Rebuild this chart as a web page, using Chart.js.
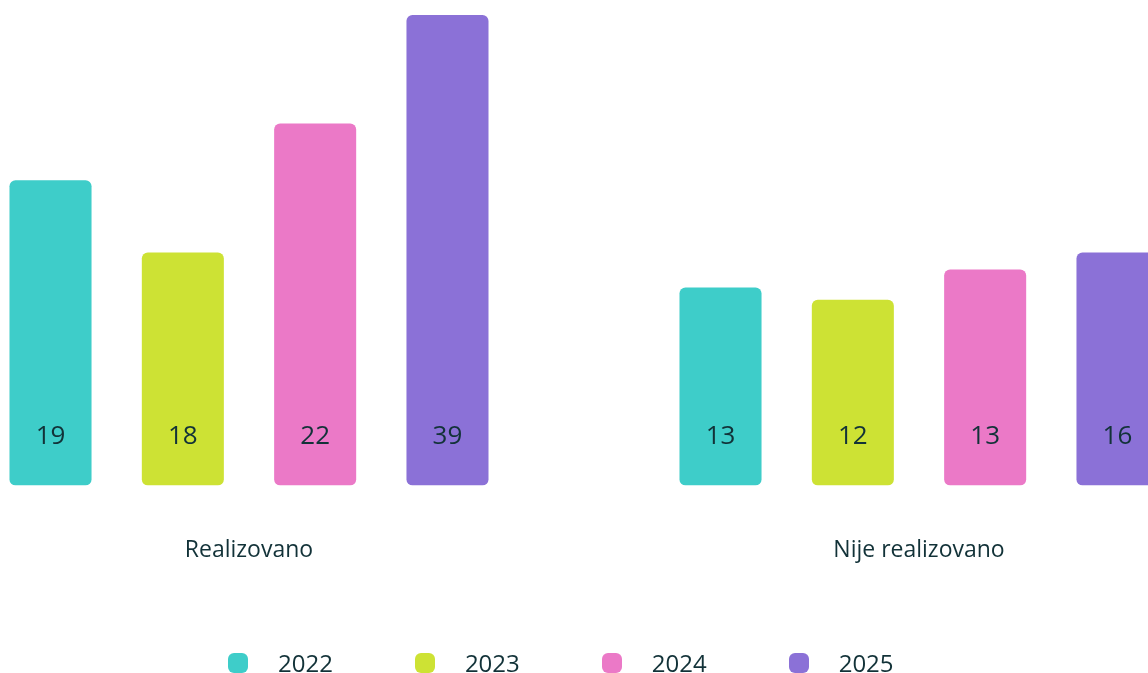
<!DOCTYPE html>
<html>
<head>
<meta charset="utf-8">
<script src="https://cdn.jsdelivr.net/npm/chart.js@4.4.1/dist/chart.umd.min.js"></script>
<style>
  html, body { margin: 0; padding: 0; background: #fff; }
  body { width: 1148px; height: 673px; overflow: hidden; position: relative; font-family: "Open Sans", sans-serif; }
  #wrap { position: absolute; left: -86px; top: 0; width: 1340px; height: 653px; }
  #legend { position: absolute; left: 228px; top: 646px; display: flex; gap: 82px; color: #123238; font-size: 24px; }
  #legend .item { display: flex; align-items: center; }
  #legend .box { width: 20px; height: 20px; border-radius: 6px; margin-right: 30px; }
</style>
</head>
<body>
<div id="wrap"><canvas id="barChart"></canvas></div>
<div id="legend"></div>
<script>
const categories = ['Realizovano', 'Nije realizovano'];
const years = ['2022', '2023', '2024', '2025'];

// numbers printed on the bars
const values2022 = [19, 13];
const values2023 = [18, 12];
const values2024 = [22, 13];
const values2025 = [39, 16];

// bar lengths as drawn in the picture (same units, 39 = tallest bar)
const heights2022 = [25.3, 16.4];
const heights2023 = [19.3, 15.4];
const heights2024 = [30.0, 17.9];
const heights2025 = [39, 19.3];

const colors = ['#3ECDC9', '#CDE234', '#EB79C7', '#8B71D7'];
const textColor = '#123238';

const allValues = [values2022, values2023, values2024, values2025];
const allHeights = [heights2022, heights2023, heights2024, heights2025];

const barLabels = {
    id: 'barLabels',
    afterDatasetsDraw(chart) {
        const ctx = chart.ctx;
        ctx.save();
        ctx.font = '26px "Open Sans"';
        ctx.fillStyle = textColor;
        ctx.textAlign = 'center';
        ctx.textBaseline = 'middle';
        chart.data.datasets.forEach((ds, i) => {
            chart.getDatasetMeta(i).data.forEach((bar, j) => {
                ctx.fillText(allValues[i][j], bar.x, bar.base - 49);
            });
        });
        ctx.restore();
    }
};

const ctx = document.getElementById('barChart').getContext('2d');
new Chart(ctx, {
    type: 'bar',
    data: {
        labels: categories,
        datasets: years.map((y, i) => ({
            label: y,
            data: allHeights[i],
            backgroundColor: colors[i],
            borderRadius: 6,
            borderSkipped: false,
            barPercentage: 0.62,
            categoryPercentage: 0.79
        }))
    },
    options: {
        responsive: true,
        maintainAspectRatio: false,
        animation: false,
        layout: { padding: { top: 15, bottom: 38, left: 0, right: 0 } },
        plugins: {
            legend: { display: false },
            tooltip: { enabled: false }
        },
        scales: {
            x: {
                grid: { display: false, drawTicks: false },
                border: { display: false },
                ticks: {
                    padding: 51,
                    color: textColor,
                    font: { family: 'Open Sans', size: 23 }
                }
            },
            y: {
                display: false,
                min: 0,
                max: 39
            }
        }
    },
    plugins: [barLabels]
});

const legend = document.getElementById('legend');
years.forEach((y, i) => {
    const item = document.createElement('div');
    item.className = 'item';
    item.innerHTML = '<span class="box" style="background:' + colors[i] + '"></span><span>' + y + '</span>';
    legend.appendChild(item);
});
</script>
</body>
</html>
